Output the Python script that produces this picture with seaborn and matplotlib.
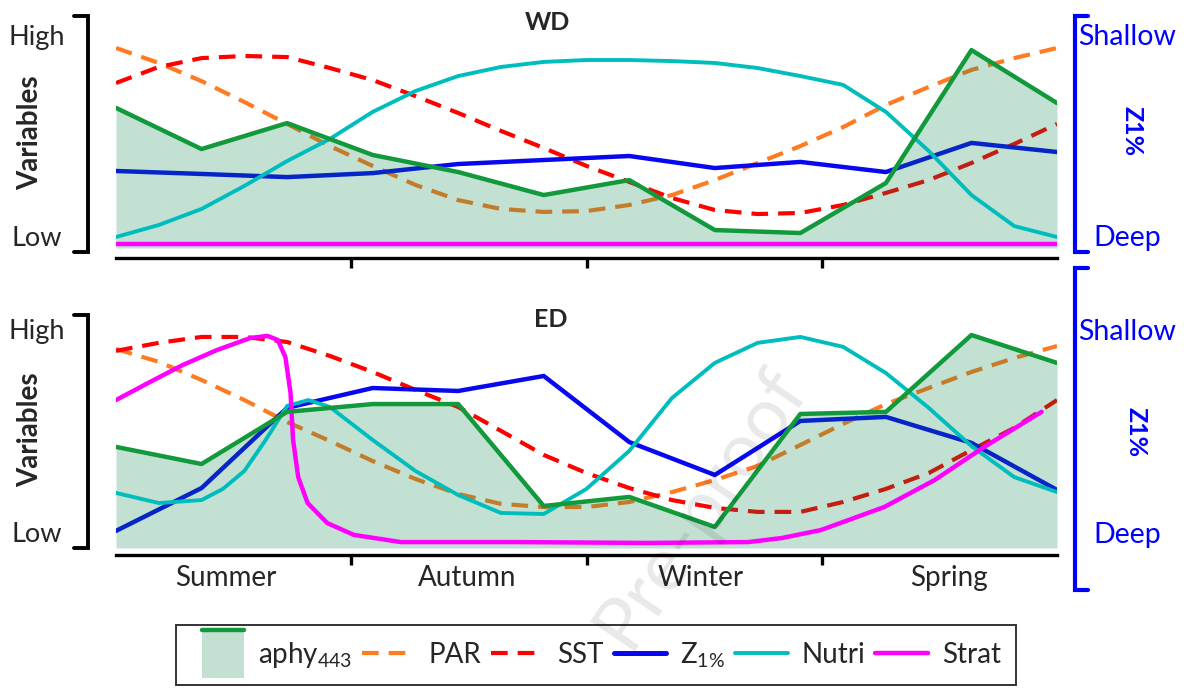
import matplotlib
matplotlib.use("Agg")
import matplotlib.pyplot as plt
from matplotlib.lines import Line2D
from matplotlib.patches import Rectangle
from matplotlib.legend_handler import HandlerBase
import seaborn as sns

# x positions: 12 monthly points (0..11) and half-month points for the smooth curves
months = [0, 1, 2, 3, 4, 5, 6, 7, 8, 9, 10, 11]
half = [i / 2 for i in range(23)]
seasons = ["Summer", "Autumn", "Winter", "Spring"]
season_edges = [2.75, 5.5, 8.25]
season_mids = [1.28, 4.11, 6.83, 9.74]

# ---- WD panel (relative units, 0 = bottom of panel, 100 = "High") ----
wd_aphy = [66.4, 46.9, 59.2, 44.1, 36.0, 25.1, 32.2, 8.5, 7.1, 30.8, 93.8, 68.7]
wd_z1 = [36.5, 35.1, 33.6, 35.5, 39.8, 41.7, 43.6, 37.9, 40.8, 36.0, 49.8, 45.5]
wd_strat = [1.9, 1.9, 1.9, 1.9, 1.9, 1.9, 1.9, 1.9, 1.9, 1.9, 1.9, 1.9]
wd_par = [94.8, 87.7, 79.1, 69.2, 58.8, 48.3, 38.9, 29.9, 22.7, 18.5, 17.1, 17.5,
          20.4, 25.1, 32.2, 40.3, 48.3, 57.3, 67.8, 76.3, 84.4, 90.0, 94.8]
wd_sst = [78.2, 85.8, 90.0, 91.0, 90.5, 85.3, 79.6, 72.0, 64.0, 55.5, 47.4, 38.9,
          31.3, 23.7, 18.0, 16.1, 16.6, 20.4, 26.1, 32.2, 40.3, 49.3, 58.8]
wd_nutri = [5.2, 10.9, 18.5, 29.4, 41.2, 51.7, 64.5, 74.4, 81.5, 85.8, 88.2, 89.1,
            89.1, 88.6, 87.7, 85.3, 81.5, 77.3, 64.5, 46.0, 25.1, 10.4, 5.2]

# ---- ED panel ----
ed_aphy = [47.9, 39.8, 64.5, 68.2, 68.2, 19.9, 24.2, 10.0, 63.5, 64.5, 100.9, 87.7]
ed_z1 = [8.1, 28.4, 66.4, 75.8, 74.4, 81.5, 50.2, 34.6, 60.2, 62.1, 49.8, 27.5]
ed_par = [94.3, 88.2, 79.6, 70.1, 59.7, 50.7, 41.2, 32.7, 25.6, 20.9, 19.4, 19.4,
          21.8, 26.5, 32.2, 38.9, 48.8, 58.8, 68.2, 75.8, 83.4, 90.0, 95.7]
ed_sst = [93.4, 97.2, 100.0, 100.0, 97.6, 91.0, 83.4, 74.9, 66.8, 55.5, 44.1, 35.5,
          28.4, 22.7, 19.0, 17.1, 17.1, 21.8, 28.0, 35.5, 46.4, 56.9, 70.1]
ed_nutri_x = [0, 0.5, 1.0, 1.25, 1.5, 1.75, 2.0, 2.25, 2.5, 3.0, 3.5, 4.0, 4.5, 5.0,
              5.5, 6.0, 6.5, 7.0, 7.5, 8.0, 8.5, 9.0, 9.5, 10.0, 10.5, 11.0]
ed_nutri = [26.1, 21.3, 22.7, 28.0, 36.5, 51.2, 67.3, 70.1, 66.8, 51.2, 36.5, 25.1,
            16.6, 16.1, 28.0, 46.0, 71.1, 87.7, 97.2, 100.0, 95.3, 82.9, 66.4, 48.3,
            33.6, 26.5]
ed_strat_x = [0, 0.4, 0.78, 1.18, 1.57, 1.77, 1.89, 1.98, 2.04, 2.07, 2.13, 2.24,
              2.47, 2.78, 3.33, 4.65, 6.22, 7.39, 7.78, 8.24, 8.98, 9.57, 10.15, 10.82]
ed_strat = [70.1, 78.7, 86.7, 93.8, 99.5, 100.5, 98.6, 90.5, 73.5, 51.2, 33.6, 21.3,
            11.8, 6.2, 2.8, 2.8, 2.4, 2.8, 4.7, 8.5, 19.4, 32.2, 47.9, 64.5]

c_aphy = "#12993c"
c_fill = "#008246"
c_fill_leg = "#c3e0d3"
c_par = "#ff7b22"
c_sst = "#ff0000"
c_z1 = "#0808f0"
c_nutri = "#00bdbd"
c_strat = "#ff00ff"
dash = (0, (4, 2.4))

sns.set_theme(style="white")
plt.rcParams["font.family"] = ["Lato", "DejaVu Sans"]
plt.rcParams["mathtext.fontset"] = "custom"
plt.rcParams["mathtext.rm"] = "Lato"
plt.rcParams["mathtext.it"] = "Lato:italic"

fig = plt.figure(figsize=(11.87, 6.90), dpi=100)
ax_wd = fig.add_axes([116 / 1187, 1 - 258 / 690, 941 / 1187, 248 / 690])
ax_ed = fig.add_axes([116 / 1187, 1 - 555 / 690, 941 / 1187, 255 / 690])


def draw_panel(ax, aphy, z1, par, sst, nutri_x, nutri, strat_x, strat):
    sns.lineplot(x=half, y=par, ax=ax, color=c_par, lw=3, linestyle=dash, zorder=2)
    sns.lineplot(x=half, y=sst, ax=ax, color=c_sst, lw=3, linestyle=dash, zorder=2)
    sns.lineplot(x=months, y=z1, ax=ax, color=c_z1, lw=3.2, zorder=2)
    ax.fill_between(months, aphy, 0, color=c_fill, alpha=0.24, lw=0, zorder=3)
    sns.lineplot(x=nutri_x, y=nutri, ax=ax, color=c_nutri, lw=2.8, zorder=4)
    sns.lineplot(x=strat_x, y=strat, ax=ax, color=c_strat, lw=3.2, zorder=4,
                 sort=False)
    sns.lineplot(x=months, y=aphy, ax=ax, color=c_aphy, lw=3.2, zorder=5)
    ax.set_xlim(0, 11)
    for s in ["left", "right", "top"]:
        ax.spines[s].set_visible(False)
    ax.spines["bottom"].set_color("black")
    ax.spines["bottom"].set_linewidth(2.4)
    ax.set_xticks(season_edges)
    ax.set_xticklabels([])
    ax.set_xticks(season_mids, minor=True)
    ax.tick_params(axis="x", which="major", direction="out", length=7, width=2.4,
                   color="black", bottom=True)
    ax.tick_params(axis="x", which="minor", length=0, labelsize=20, pad=7)
    ax.set_yticks([])
    ax.set_xlabel("")
    ax.set_ylabel("")
    ax.grid(False)


draw_panel(ax_wd, wd_aphy, wd_z1, wd_par, wd_sst, half, wd_nutri, months, wd_strat)
draw_panel(ax_ed, ed_aphy, ed_z1, ed_par, ed_sst, ed_nutri_x, ed_nutri,
           ed_strat_x, ed_strat)
ax_wd.set_ylim(-4.74, 112.8)
ax_ed.set_ylim(-3.32, 117.5)
ax_ed.set_xticklabels(seasons, minor=True)


def brackets(ax, left, right, high, low, var_y, z_y, z_x):
    tr = ax.get_yaxis_transform()
    ax.plot([-0.0446, -0.0298, -0.0298, -0.0446], [left[0], left[0], left[1], left[1]],
            transform=tr, color="black", lw=2.8, clip_on=False,
            solid_joinstyle="miter")
    ax.plot([1.0329, 1.0191, 1.0191, 1.0329], [right[0], right[0], right[1], right[1]],
            transform=tr, color="#0000ff", lw=3.0, clip_on=False,
            solid_joinstyle="miter")
    ax.text(-0.084, high, "High", transform=tr, ha="center", va="center", fontsize=19.5)
    ax.text(-0.084, low, "Low", transform=tr, ha="center", va="center", fontsize=19.5)
    ax.text(1.0744, high, "Shallow", transform=tr, ha="center", va="center",
            fontsize=20.5, color="#0000ff")
    ax.text(1.0744, low, "Deep", transform=tr, ha="center", va="center",
            fontsize=20.5, color="#0000ff")
    ax.text(-0.0914, var_y, "Variables", transform=tr, ha="center", va="center",
            rotation=90, fontsize=20, fontweight="bold")
    ax.text(z_x, z_y, "Z1%", transform=tr, ha="center", va="center",
            rotation=-90, fontsize=18, fontweight="bold", color="#0000ff")


brackets(ax_wd, (110.0, -1.9), (110.0, -1.9), 100.0, 4.7, 54.5, 55.5, 1.0797)
brackets(ax_ed, (110.4, 0.0), (132.7, -19.9), 102.4, 6.2, 55.9, 55.0, 1.084)

ax_wd.text(0.458, 107.1, "WD", transform=ax_wd.get_yaxis_transform(), ha="center",
           va="center", fontsize=18, fontweight="bold")
ax_ed.text(0.462, 108.1, "ED", transform=ax_ed.get_yaxis_transform(), ha="center",
           va="center", fontsize=18, fontweight="bold")


class AphyHandler(HandlerBase):
    def create_artists(self, legend, orig_handle, xdescent, ydescent, width,
                       height, fontsize, trans):
        x0 = -xdescent + 0.2 * width
        w = 0.8 * width
        y0 = -ydescent - 0.75 * height
        h = 2.45 * height
        rect = Rectangle((x0, y0), w, h, facecolor=c_fill_leg, lw=0, transform=trans)
        top = Line2D([x0, x0 + w], [y0 + h, y0 + h], color=c_aphy, lw=3.2,
                     transform=trans)
        return [rect, top]


handles = [
    Rectangle((0, 0), 1, 1),
    Line2D([], [], color=c_par, lw=3, linestyle=dash),
    Line2D([], [], color=c_sst, lw=3, linestyle=dash),
    Line2D([], [], color=c_z1, lw=3.6),
    Line2D([], [], color=c_nutri, lw=2.8),
    Line2D([], [], color=c_strat, lw=3.2),
]
labels = ["aphy$_{\\mathrm{443}}$", "PAR", "SST", "Z$_{\\mathrm{1\\%}}$", "Nutri", "Strat"]
leg = fig.legend(handles, labels, loc="center", bbox_to_anchor=(0.502, 0.0507),
                 ncol=6, frameon=True, fancybox=False, edgecolor="black",
                 fontsize=20, handlelength=1.9, handletextpad=0.5,
                 columnspacing=0.35, borderpad=0.55,
                 handler_map={Rectangle: AphyHandler()})
leg.get_frame().set_linewidth(1.4)

# faint "Pre-proof" watermark of the source
fig.text(0.59, 0.265, "Pre-proof", rotation=56, fontsize=54, color="black",
         alpha=0.09, ha="center", va="center", zorder=10)

fig.savefig("out.png", dpi=100)
